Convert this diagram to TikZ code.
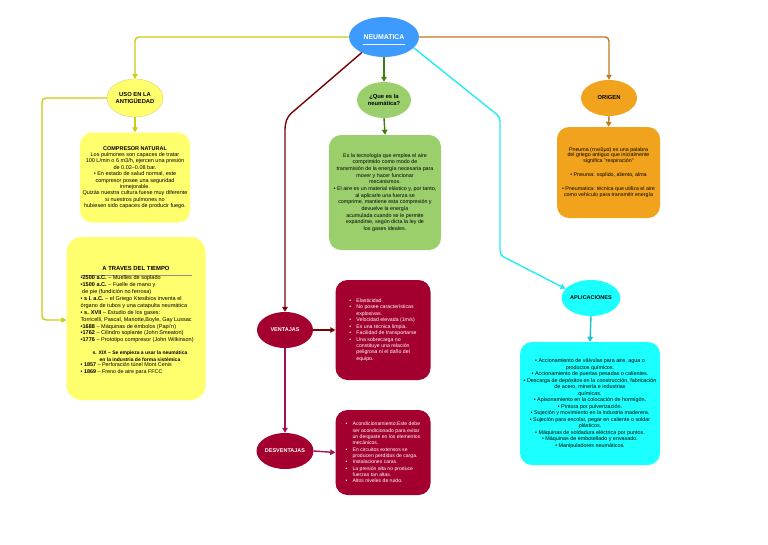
\documentclass[tikz,border=0pt]{standalone}
\usepackage{fontspec}
\setmainfont{Liberation Sans}
\usetikzlibrary{shapes.geometric,arrows.meta}
\definecolor{neublue}{HTML}{3D9BFF}
\definecolor{yelfill}{HTML}{FFFF6E}
\definecolor{yelline}{HTML}{CCCC10}
\definecolor{grnfill}{HTML}{9BCF6C}
\definecolor{grnline}{HTML}{3F7F10}
\definecolor{orfill}{HTML}{F2A31D}
\definecolor{orline}{HTML}{C27A1E}
\definecolor{redfill}{HTML}{A3002F}
\definecolor{marline}{HTML}{7A0008}
\definecolor{crimline}{HTML}{A3105A}
\definecolor{cyfill}{HTML}{1CFFFF}
\definecolor{cyline}{HTML}{22EEF2}
\definecolor{cydark}{HTML}{10C8D0}
\tikzset{
  ell/.style={ellipse, inner sep=0pt, align=center, font=\bfseries\fontsize{5.8}{6.5}\selectfont},
  rbox/.style={rectangle, rounded corners=12pt, inner sep=0pt, align=center},
  txt/.style={font=\fontsize{5.3}{6.5}\selectfont},
  conn/.style={line width=1.4pt, -{Triangle[length=5pt,width=5.5pt]}, rounded corners=4pt}
}
\begin{document}
\begin{tikzpicture}[x=1pt,y=-1pt]
\useasboundingbox (0,0) rectangle (768,544);
\fill[white] (0,0) rectangle (768,544);

% ---------- nodes ----------
\node[ell, fill=neublue, text=white, minimum width=70pt, minimum height=40pt,
      font=\bfseries\fontsize{6.9}{7.5}\selectfont] (neu) at (384,37) {NEUMATICA};
\draw[white, line width=0.9pt] (363,44.5) -- (405,44.5);

\node[ell, fill=yelfill, draw=yelfill!80!black, line width=0.3pt, minimum width=56pt, minimum height=38pt] (uso) at (135,98) {USO EN LA\\ANTIGÜEDAD};
\node[ell, fill=grnfill, minimum width=54pt, minimum height=36pt, font=\bfseries\fontsize{5.8}{7.6}\selectfont] (que) at (384,100) {¿Que es la\\neumática?};
\node[ell, fill=orfill, minimum width=56pt, minimum height=36pt] (ori) at (609,98) {ORIGEN};
\node[ell, fill=redfill, text=white, minimum width=56pt, minimum height=36pt, font=\bfseries\fontsize{5.5}{6.5}\selectfont] (vent) at (285,330) {VENTAJAS};
\node[ell, fill=redfill, text=white, minimum width=57pt, minimum height=36pt, font=\bfseries\fontsize{5.5}{6.5}\selectfont] (desv) at (285,451) {DESVENTAJAS};
\node[ell, fill=cyfill, minimum width=58pt, minimum height=36pt, font=\bfseries\fontsize{5.5}{6.5}\selectfont] (apl) at (591,298) {APLICACIONES};

% compresor natural
\node[rbox, fill=yelfill, minimum width=110pt, minimum height=90pt, font=\fontsize{5.5}{6.4}\selectfont] (comp) at (135,177.5)
{\textbf{COMPRESOR NATURAL}\\
Los pulmones son capaces de tratar\\
100 L/min o 6 m3/h, ejercen una presión\\
de 0.02–0.08 bar.\\
• En estado de salud normal, este\\
compresor posee una seguridad\\
inmejorable.\\
Quizás nuestra cultura fuese muy diferente\\
si nuestros pulmones no\\
hubiesen sido capaces de producir fuego.};

% a traves del tiempo
\node[rbox, rounded corners=15pt, fill=yelfill, minimum width=139pt, minimum height=163pt] (tiem) at (136,318.5) {};
\node[font=\bfseries\fontsize{5.9}{6.5}\selectfont, inner sep=0pt] (tiemh) at (136,268) {A TRAVES DEL TIEMPO};
\draw[black!45, line width=0.5pt] (81,274.8) -- (192,274.8);
\node[font=\fontsize{5.55}{6.9}\selectfont, align=left, anchor=north west, inner sep=0pt] (tiem1) at (80.5,275.5)
{\textbf{•2500 a.C.} – Muelles de soplado\\
\textbf{•1500 a.C.} – Fuelle de mano y\\
\ de pie (fundición no ferrosa)\\
\textbf{• s I. a.C.} – el Griego Ktesibios inventa el\\
órgano de tubos y una catapulta neumática\\
\textbf{• s. XVII} – Estudio de los gases:\\
Torricelli, Pascal, Mariotte,Boyle, Gay Lussac\\
\textbf{•1688} – Máquinas de émbolos (Papi'n)\\
\textbf{•1762} – Cilindro soplante (John Smeaton)\\
\textbf{•1776} – Prototipo compresor (John Wilkinson)};
\node[font=\bfseries\fontsize{5.0}{6.7}\selectfont, align=center, inner sep=0pt] (tiem2) at (140,356.5)
{s. XIX – Se empieza a usar la neumática\\en la industria de forma sistémica};
\node[font=\fontsize{5.4}{6.8}\selectfont, align=left, anchor=north west, inner sep=0pt] (tiem3) at (80.5,362.5)
{\textbf{• 1857} – Perforación túnel Mont Cenis\\
\textbf{• 1869} – Freno de aire para FFCC};

% green box
\node[rbox, fill=grnfill, minimum width=112pt, minimum height=115pt, font=\fontsize{5.35}{6.65}\selectfont] (gbox) at (385,192.5)
{Es la tecnología que emplea el aire\\
comprimido como modo de\\
transmisión de la energía necesaria para\\
mover y hacer funcionar\\
mecanismos.\\
• El aire es un material elástico y, por tanto,\\
al aplicarle una fuerza se\\
comprime, mantiene esta compresión y\\
devuelve la energía\\
acumulada cuando se le permite\\
expandirse, según dicta la ley de\\
los gases ideales.};

% origen box
\node[rbox, fill=orfill, minimum width=103pt, minimum height=91pt, font=\fontsize{5.3}{5.5}\selectfont] (obox) at (608.5,172.5)
{Pneuma (πνεῦμα) es una palabra\\
del griego antiguo que inicialmente\\
significa "respiración"\\[9pt]
• Pneuma: soplido, aliento, alma\\[8.5pt]
• Pneumatica: técnica que utiliza el aire\\
como vehículo para transmitir energía};

% ventajas box
\node[rbox, fill=redfill, text=white, minimum width=95pt, minimum height=100pt, align=left, font=\fontsize{5.2}{6.45}\selectfont] (vbox) at (383,330)
{\makebox[7pt][l]{•}Elasticidad.\\
\makebox[7pt][l]{•}No posee características\\
\hspace*{7pt}explosivas.\\
\makebox[7pt][l]{•}Velocidad elevada (1m/s)\\
\makebox[7pt][l]{•}Es una técnica limpia.\\
\makebox[7pt][l]{•}Facilidad de transportarse\\
\makebox[7pt][l]{•}Una sobrecarga no\\
\hspace*{7pt}constituye una relación\\
\hspace*{7pt}peligrosa ni el daño del\\
\hspace*{7pt}equipo.};

% desventajas box
\node[rbox, fill=redfill, text=white, minimum width=95pt, minimum height=85pt, align=left, font=\fontsize{5.1}{6.3}\selectfont] (dbox) at (383,452.5)
{\makebox[7pt][l]{•}Acondicionamiento:Este debe\\
\hspace*{7pt}ser acondicionado para evitar\\
\hspace*{7pt}un desgaste en los elementos\\
\hspace*{7pt}mecánicos.\\
\makebox[7pt][l]{•}En circuitos extensos se\\
\hspace*{7pt}producen perdidas de carga.\\
\makebox[7pt][l]{•}Instalaciones caras.\\
\makebox[7pt][l]{•}La presión alta no produce\\
\hspace*{7pt}fuerzas tan altas.\\
\makebox[7pt][l]{•}Altos niveles de ruido.};

% aplicaciones box
\node[rbox, fill=cyfill, minimum width=140pt, minimum height=123pt, font=\fontsize{5.4}{6.5}\selectfont] (abox) at (590,403.5)
{• Accionamiento de válvulas para aire, agua o\\
productos químicos.\\
• Accionamiento de puertas pesadas o calientes.\\
• Descarga de depósitos en la construcción, fabricación\\
de acero, minería e industrias\\
químicas.\\
• Apisonamiento en la colocación de hormigón.\\
• Pintura por pulverización.\\
• Sujeción y movimiento en la industria maderera.\\
• Sujeción para encolar, pegar en caliente o soldar\\
plásticos.\\
• Máquinas de soldadura eléctrica por puntos.\\
• Máquinas de embotellado y envasado.\\
• Manipuladores neumáticos.};

% ---------- connectors ----------
\coordinate (yl) at (42,320);
\coordinate (m1) at (288,116);
\coordinate (m2) at (285,125);
\coordinate (c1) at (500,117);
\coordinate (c2) at (500,255);

\draw[conn, yelline] (neu.west) -| (uso.north);
\draw[conn, yelline] (uso.south) -- (comp.north);
\draw[conn, yelline] (uso.west) -| (yl) -- (tiem.west|-yl);

\draw[conn, grnline] (neu.south) -- (que.north);
\draw[conn, grnline] (que.south) -- (gbox.north);

\draw[conn, orline] (neu.east) -| (ori.north);
\draw[conn, orline] (ori.south) -- (obox.north);

\draw[conn, marline] (neu.215) -- (m1) -- (m2) -- (vent.north);
\draw[conn, marline] (vent.east) -- (vbox.west);
\draw[conn, crimline] (vent.south) -- (desv.north);
\draw[conn, crimline] (desv.east) -- (dbox.west);

\draw[conn, cyline] (neu.-20) -- (c1) -- (c2) -- (apl.160);
\draw[conn, cydark] (apl.south) -- (abox.north);
\end{tikzpicture}
\end{document}
